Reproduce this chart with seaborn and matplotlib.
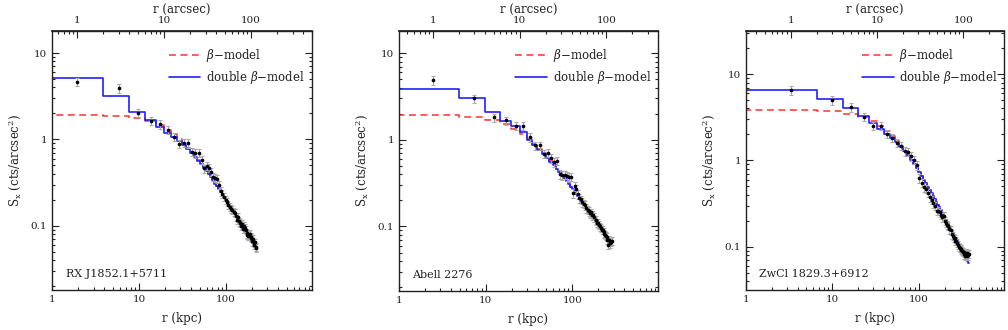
import numpy as np
import pandas as pd
import matplotlib
matplotlib.use("Agg")
import matplotlib.pyplot as plt
from matplotlib import ticker
import seaborn as sns

# ---------------- data (surface brightness per 2-arcsec annulus) ----------------
cluster_names = ["RX J1852.1+5711", "Abell 2276", "ZwCl 1829.3+6912"]
kpc_per_arcsec = [1.94, 2.47, 3.30]
bin_width_arcsec = 2.0

sx_rxj = [4.65, 3.9, 2.04, 1.63, 1.5, 1.28, 1.07, 0.89, 0.91, 0.90,
          0.72, 0.69, 0.70, 0.58, 0.46, 0.49, 0.47, 0.42, 0.37, 0.36,
          0.35, 0.30, 0.25, 0.235, 0.215, 0.20, 0.19, 0.175, 0.165, 0.158,
          0.152, 0.145, 0.14, 0.128, 0.117, 0.125, 0.112, 0.108, 0.100, 0.104,
          0.092, 0.099, 0.094, 0.090, 0.078, 0.082, 0.076, 0.078, 0.080, 0.072,
          0.074, 0.066, 0.070, 0.063, 0.060, 0.064, 0.057, 0.055]
beta_rxj = [1.94, 1.877, 1.761, 1.613, 1.453, 1.296, 1.149, 1.018, 0.903, 0.803,
            0.716, 0.641, 0.577, 0.521, 0.473, 0.431, 0.394, 0.362, 0.334, 0.308,
            0.286, 0.266, 0.248, 0.231, 0.217, 0.204, 0.192, 0.181, 0.170, 0.161,
            0.153, 0.145, 0.138, 0.131, 0.125, 0.119, 0.114, 0.109, 0.1045, 0.100,
            0.0961, 0.0923, 0.0888, 0.0855, 0.0823, 0.0792, 0.0765, 0.0738, 0.0713, 0.0690,
            0.0667, 0.0646, 0.0626, 0.0606, 0.0588, 0.0570, 0.0553, 0.0537]
dbeta_rxj = [5.17, 3.17, 2.09, 1.69, 1.39, 1.20, 1.07, 0.96, 0.86, 0.77,
             0.69, 0.625, 0.565, 0.515, 0.47, 0.431, 0.394, 0.362, 0.334, 0.308,
             0.286, 0.266, 0.248, 0.231, 0.217, 0.204, 0.192, 0.181, 0.170, 0.161,
             0.153, 0.145, 0.138, 0.131, 0.125, 0.119, 0.114, 0.109, 0.1045, 0.100,
             0.0961, 0.0923, 0.0888, 0.0855, 0.0823, 0.0792, 0.0765, 0.0738, 0.0713, 0.0690,
             0.0667, 0.0646, 0.0626, 0.0606, 0.0588, 0.0570, 0.0553, 0.0537]

sx_a2276 = [4.85, 3.0, 1.81, 1.67, 1.46, 1.45, 1.07, 0.86, 0.86, 0.69,
            0.71, 0.61, 0.55, 0.57, 0.40, 0.39, 0.395, 0.38, 0.37, 0.377,
            0.242, 0.29, 0.27, 0.235, 0.212, 0.205, 0.19, 0.182, 0.175, 0.162,
            0.155, 0.15, 0.142, 0.145, 0.135, 0.136, 0.128, 0.12, 0.118, 0.111,
            0.109, 0.104, 0.10, 0.097, 0.092, 0.091, 0.086, 0.082, 0.080, 0.078,
            0.076, 0.070, 0.061, 0.069, 0.067, 0.064, 0.066, 0.068]
beta_a2276 = [1.919, 1.832, 1.683, 1.506, 1.328, 1.164, 1.020, 0.896, 0.792, 0.704,
              0.629, 0.566, 0.512, 0.465, 0.425, 0.390, 0.359, 0.333, 0.309, 0.288,
              0.269, 0.252, 0.237, 0.223, 0.210, 0.199, 0.188, 0.179, 0.170, 0.162,
              0.155, 0.148, 0.141, 0.135, 0.130, 0.125, 0.120, 0.115, 0.111, 0.107,
              0.103, 0.0996, 0.0963, 0.0932, 0.0902, 0.0874, 0.0847, 0.0821, 0.0797, 0.0774,
              0.0752, 0.0731, 0.0711, 0.0692, 0.0673, 0.0656, 0.0639, 0.0623]
dbeta_a2276 = [3.89, 3.0, 2.09, 1.63, 1.43, 1.23, 0.99, 0.87, 0.77, 0.69,
               0.62, 0.56, 0.512, 0.465, 0.425, 0.390, 0.359, 0.333, 0.309, 0.288,
               0.269, 0.252, 0.237, 0.223, 0.210, 0.199, 0.188, 0.179, 0.170, 0.162,
               0.155, 0.148, 0.141, 0.135, 0.130, 0.125, 0.120, 0.115, 0.111, 0.107,
               0.103, 0.0996, 0.0963, 0.0932, 0.0902, 0.0874, 0.0847, 0.0821, 0.0797, 0.0774,
               0.0752, 0.0731, 0.0711, 0.0692, 0.0673, 0.0656, 0.0639, 0.0623]

sx_zwcl = [6.52, 4.99, 4.13, 3.19, 2.53, 2.53, 2.02, 1.84, 1.59, 1.48,
           1.28, 1.25, 1.12, 1.02, 0.88, 0.62, 0.55, 0.49, 0.47, 0.42,
           0.375, 0.35, 0.32, 0.30, 0.262, 0.26, 0.25, 0.235, 0.22, 0.229,
           0.20, 0.19, 0.18, 0.176, 0.16, 0.155, 0.14, 0.135, 0.128, 0.125,
           0.117, 0.117, 0.112, 0.105, 0.10, 0.098, 0.095, 0.092, 0.09, 0.088,
           0.086, 0.082, 0.078, 0.082, 0.079, 0.084, 0.080, 0.083]
beta_zwcl = [3.833, 3.702, 3.465, 3.161, 2.831, 2.504, 2.199, 1.925, 1.685, 1.478,
             1.301, 1.149, 1.019, 0.908, 0.813, 0.730, 0.659, 0.597, 0.543, 0.496,
             0.454, 0.418, 0.385, 0.356, 0.330, 0.3065, 0.2855, 0.2666, 0.2494, 0.2337,
             0.2195, 0.2065, 0.1947, 0.1838, 0.1737, 0.1645, 0.156, 0.1481, 0.1408, 0.134,
             0.1277, 0.1218, 0.1163, 0.1111, 0.1063, 0.1018, 0.0976, 0.0937, 0.0899, 0.0864,
             0.0831, 0.080, 0.077, 0.0742, 0.0716, 0.069, 0.0667, 0.0644]
dbeta_zwcl = [6.58, 5.12, 4.06, 3.27, 2.71, 2.34, 2.04, 1.82, 1.62, 1.44,
              1.28, 1.14, 1.01, 0.908, 0.813, 0.730, 0.659, 0.597, 0.543, 0.496,
              0.454, 0.418, 0.385, 0.356, 0.330, 0.3065, 0.2855, 0.2666, 0.2494, 0.2337,
              0.2195, 0.2065, 0.1947, 0.1838, 0.1737, 0.1645, 0.156, 0.1481, 0.1408, 0.134,
              0.1277, 0.1218, 0.1163, 0.1111, 0.1063, 0.1018, 0.0976, 0.0937, 0.0899, 0.0864,
              0.0831, 0.080, 0.077, 0.0742, 0.0716, 0.069, 0.0667, 0.0644]

err_frac = 0.11
y_limits = [(0.018, 18.0), (0.018, 18.0), (0.0316, 31.6)]
x_limits = (1.0, 975.0)
x_major_ticks = [1, 10, 100]
arcsec_major_ticks = [1, 10, 100]
y_major_ticks = [0.1, 1, 10]

# ---------------- style ----------------
sns.set_theme(style="ticks")
plt.rcParams["font.family"] = ["DejaVu Serif"]
plt.rcParams["mathtext.fontset"] = "dejavuserif"
plt.rcParams["text.color"] = "#222222"
plt.rcParams["axes.labelcolor"] = "#222222"
plt.rcParams["xtick.color"] = "#222222"
plt.rcParams["ytick.color"] = "#222222"
plt.rcParams["axes.edgecolor"] = "#222222"

fig = plt.figure(figsize=(10.08, 3.30), dpi=100)
W, H = 1008.0, 330.0
rects_px = [(52, 31, 312, 290), (399, 31, 658, 291), (746, 31, 1004, 290)]

panels = [
    (cluster_names[0], kpc_per_arcsec[0], sx_rxj, beta_rxj, dbeta_rxj, y_limits[0]),
    (cluster_names[1], kpc_per_arcsec[1], sx_a2276, beta_a2276, dbeta_a2276, y_limits[1]),
    (cluster_names[2], kpc_per_arcsec[2], sx_zwcl, beta_zwcl, dbeta_zwcl, y_limits[2]),
]

red = "#ff3030"
blue = "#2020ff"


def minor_log_ticks(lo, hi):
    out = []
    for e in range(-3, 4):
        for m in range(2, 10):
            v = m * 10.0 ** e
            if lo < v < hi:
                out.append(v)
    return out


fmt = ticker.FuncFormatter(lambda v, p: f"{v:g}")

for (name, scale, sx, bmod, dbmod, ylim), (l, t, r_, b) in zip(panels, rects_px):
    ax = fig.add_axes([l / W, 1 - b / H, (r_ - l) / W, (b - t) / H])
    ax.set_xscale("log")
    ax.set_yscale("log")

    r_arc = np.arange(len(sx)) * bin_width_arcsec + bin_width_arcsec / 2
    r_kpc = r_arc * scale
    lo = np.maximum(r_arc - bin_width_arcsec / 2, 0.01) * scale
    x_step = np.append(lo, (r_arc[-1] + bin_width_arcsec / 2) * scale)

    dfm = pd.DataFrame({
        "x": x_step,
        "beta": list(bmod) + [bmod[-1]],
        "dbeta": list(dbmod) + [dbmod[-1]],
    })
    sns.lineplot(data=dfm, x="x", y="beta", ax=ax, drawstyle="steps-post",
                 color=red, linestyle=(0, (4.5, 3)), linewidth=1.1,
                 label=r"$\beta$$-$model", sort=False, estimator=None)
    sns.lineplot(data=dfm, x="x", y="dbeta", ax=ax, drawstyle="steps-post",
                 color=blue, linewidth=1.2,
                 label=r"double $\beta$$-$model", sort=False, estimator=None)

    sxa = np.array(sx)
    ax.errorbar(r_kpc, sxa, yerr=err_frac * sxa, fmt="none", ecolor="#aaaaaa",
                elinewidth=0.8, capsize=1.6, capthick=0.8, zorder=3)
    dfd = pd.DataFrame({"x": r_kpc, "y": sxa})
    sns.scatterplot(data=dfd, x="x", y="y", ax=ax, color="black", s=7,
                    marker="o", linewidth=0, zorder=4)

    ax.set_xlim(*x_limits)
    ax.set_ylim(*ylim)

    ax.xaxis.set_major_locator(ticker.FixedLocator(x_major_ticks))
    ax.xaxis.set_minor_locator(ticker.FixedLocator(minor_log_ticks(*x_limits)))
    ax.yaxis.set_major_locator(ticker.FixedLocator(y_major_ticks))
    ax.yaxis.set_minor_locator(ticker.FixedLocator(minor_log_ticks(*ylim)))
    ax.xaxis.set_major_formatter(fmt)
    ax.yaxis.set_major_formatter(fmt)
    ax.xaxis.set_minor_formatter(ticker.NullFormatter())
    ax.yaxis.set_minor_formatter(ticker.NullFormatter())
    ax.tick_params(which="both", direction="in", top=False, right=True,
                   labelsize=7.5, width=0.8)
    ax.tick_params(which="major", length=5)
    ax.tick_params(which="minor", length=2.5)
    for sp in ax.spines.values():
        sp.set_linewidth(1.0)

    ax.set_xlabel("r (kpc)", fontsize=8.5, labelpad=6)
    ax.set_ylabel(r"S$_\mathrm{x}$ (cts/arcsec$^2$)", fontsize=8.5, labelpad=5)

    sec = ax.secondary_xaxis("top", functions=(lambda x, s=scale: x / s,
                                                lambda x, s=scale: x * s))
    a_lo, a_hi = x_limits[0] / scale, x_limits[1] / scale
    sec.xaxis.set_major_locator(ticker.FixedLocator(arcsec_major_ticks))
    sec.xaxis.set_minor_locator(ticker.FixedLocator(minor_log_ticks(a_lo, a_hi)))
    sec.xaxis.set_major_formatter(fmt)
    sec.xaxis.set_minor_formatter(ticker.NullFormatter())
    sec.tick_params(which="both", direction="in", labelsize=7.5, width=0.8, pad=4.5)
    sec.tick_params(which="major", length=5)
    sec.tick_params(which="minor", length=2.5)
    sec.set_xlabel("r (arcsec)", fontsize=8.5, labelpad=1.5)

    ax.text(0.052, 0.062, name, transform=ax.transAxes, fontsize=8,
            ha="left", va="center")

    ax.legend(loc="upper left", bbox_to_anchor=(0.43, 0.955), frameon=False,
              fontsize=8.5, handlelength=2.7, handletextpad=0.5,
              labelspacing=0.42, borderaxespad=0)

fig.savefig("out.png", dpi=100)
